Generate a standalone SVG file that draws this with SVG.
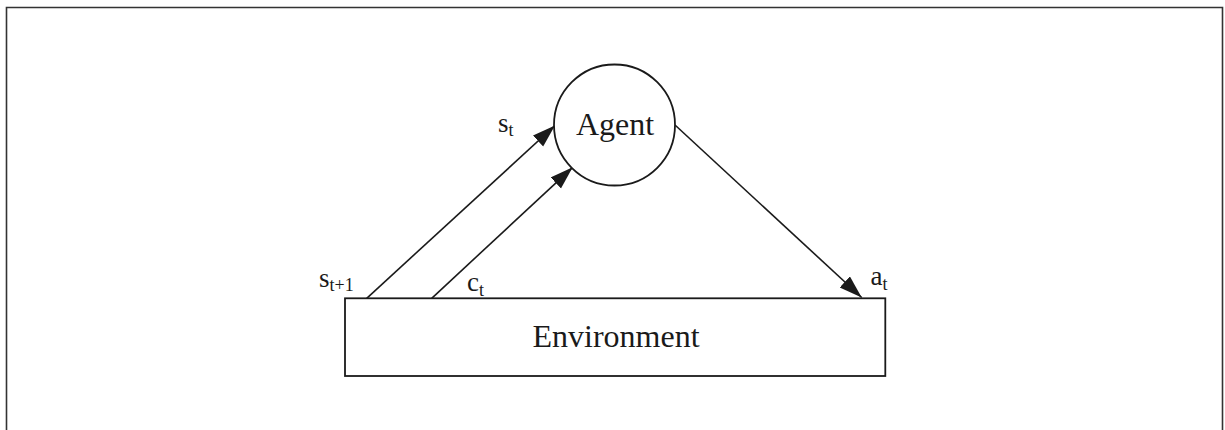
<svg xmlns="http://www.w3.org/2000/svg" width="1225" height="430" viewBox="0 0 1225 430">
<style>
.ln{stroke:#1a1a1a;stroke-width:1.6;fill:none}
.shape{stroke:#1a1a1a;stroke-width:1.8;fill:#fff}
.big{font-family:"Liberation Serif","Times New Roman",serif;font-size:32px;fill:#1a1a1a;text-anchor:middle}
.lab{font-family:"Liberation Serif","Times New Roman",serif;font-size:27px;fill:#1a1a1a}
.sub{font-size:18px}
</style>
<defs>
<marker id="ah" markerUnits="userSpaceOnUse" markerWidth="24" markerHeight="16" refX="23" refY="7.5" orient="auto">
<path d="M0,0 L23,7.5 L0,15 z" fill="#1a1a1a"/>
</marker>
</defs>
<rect width="1225" height="430" fill="#fff"/>
<path d="M6.5,440 V7.5 H1222.5 V440" fill="none" stroke="#333" stroke-width="1.6"/>
<g id="connectors">
<line class="ln" x1="366.7" y1="298.3" x2="555" y2="125.5" marker-end="url(#ah)"/>
<line class="ln" x1="431.7" y1="298.3" x2="572.7" y2="167.3" marker-end="url(#ah)"/>
<line class="ln" x1="675" y1="125" x2="861.7" y2="297.5" marker-end="url(#ah)"/>
</g>
<g id="agent">
<circle class="shape" cx="614.5" cy="125" r="60.5"/>
<text class="big" x="615" y="135">Agent</text>
</g>
<g id="environment">
<rect class="shape" x="345" y="298.3" width="540.3" height="77.7"/>
<text class="big" x="616" y="347">Environment</text>
</g>
<g id="labels">
<text class="lab" x="498" y="132">s<tspan class="sub" dy="4">t</tspan></text>
<text class="lab" x="319" y="287">s<tspan class="sub" dy="3.5">t+1</tspan></text>
<text class="lab" x="467" y="291">c<tspan class="sub" dy="4.5">t</tspan></text>
<text class="lab" x="870.5" y="285">a<tspan class="sub" dy="5">t</tspan></text>
</g>
</svg>
